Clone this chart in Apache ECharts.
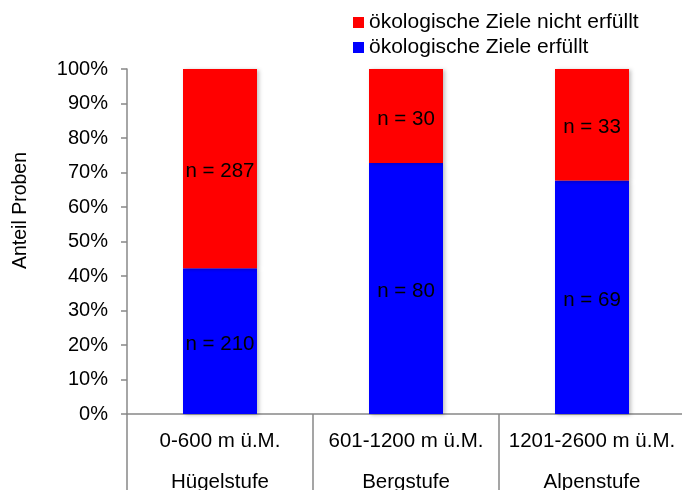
<!DOCTYPE html>
<html>
<head>
<meta charset="utf-8">
<script src="https://cdn.jsdelivr.net/npm/echarts@6/dist/echarts.min.js"></script>
<style>html,body{margin:0;padding:0;background:#fff}#c{width:682px;height:490px}</style>
</head>
<body>
<div id="c"></div>
<script>
const categories = ['0-600 m ü.M.\nHügelstufe', '601-1200 m ü.M.\nBergstufe', '1201-2600 m ü.M.\nAlpenstufe'];
const countMet = [210, 80, 69];
const countNotMet = [287, 30, 33];
const seriesNames = ['ökologische Ziele nicht erfüllt', 'ökologische Ziele erfüllt'];
const yTicks = [0, 10, 20, 30, 40, 50, 60, 70, 80, 90, 100];

const total = countMet.map((v, i) => v + countNotMet[i]);
const shareMet = countMet.map((v, i) => v / total[i] * 100);
const shareNotMet = countNotMet.map((v, i) => v / total[i] * 100);

const font = 'Liberation Sans, Arial, sans-serif';
const chart = echarts.init(document.getElementById('c'));
const shadow = {shadowColor: 'rgba(0,0,0,0.25)', shadowBlur: 4, shadowOffsetX: 2, shadowOffsetY: 1};

chart.setOption({
  animation: false,
  textStyle: {fontFamily: font},
  legend: {
    orient: 'vertical', left: 353, top: 12,
    itemWidth: 11, itemHeight: 11, itemGap: 4,
    icon: 'rect', padding: 0,
    data: [seriesNames[0], seriesNames[1]],
    textStyle: {fontSize: 21, color: '#000', fontFamily: font}
  },
  grid: {left: 127, right: -3, top: 69, bottom: 76, containLabel: false, outerBoundsMode: 'none'},
  xAxis: {
    type: 'category', data: categories,
    axisLine: {lineStyle: {color: '#888', width: 1.5}},
    axisTick: {show: true, interval: 0, length: 80, lineStyle: {color: '#888', width: 1.5}},
    axisLabel: {interval: 0, fontSize: 20.5, color: '#000', lineHeight: 41, margin: 7, fontFamily: font}
  },
  yAxis: {
    type: 'value', min: yTicks[0], max: yTicks[yTicks.length - 1], interval: 10,
    name: 'Anteil Proben', nameLocation: 'middle', nameGap: 96,
    nameTextStyle: {fontSize: 19.5, color: '#000', fontFamily: font, padding: [0, 0, 0, 62]},
    axisLine: {show: true, lineStyle: {color: '#888', width: 1.5}},
    axisTick: {show: true, length: 6, lineStyle: {color: '#888', width: 1.5}},
    splitLine: {show: false},
    axisLabel: {formatter: '{value}%', fontSize: 20, color: '#000', margin: 19, fontFamily: font, padding: [5, 0, 0, 0]}
  },
  series: [
    {
      name: seriesNames[1], type: 'bar', stack: 's', barWidth: 74,
      data: shareMet,
      itemStyle: Object.assign({color: '#0000FF'}, shadow),
      label: {show: true, position: 'inside', offset: [0, 3], color: '#000', fontSize: 20.5, fontFamily: font,
        formatter: p => 'n = ' + countMet[p.dataIndex]}
    },
    {
      name: seriesNames[0], type: 'bar', stack: 's', barWidth: 74,
      data: shareNotMet,
      itemStyle: Object.assign({color: '#FF0000'}, shadow),
      label: {show: true, position: 'inside', offset: [0, 3], color: '#000', fontSize: 20.5, fontFamily: font,
        formatter: p => 'n = ' + countNotMet[p.dataIndex]}
    }
  ]
});
</script>
</body>
</html>
